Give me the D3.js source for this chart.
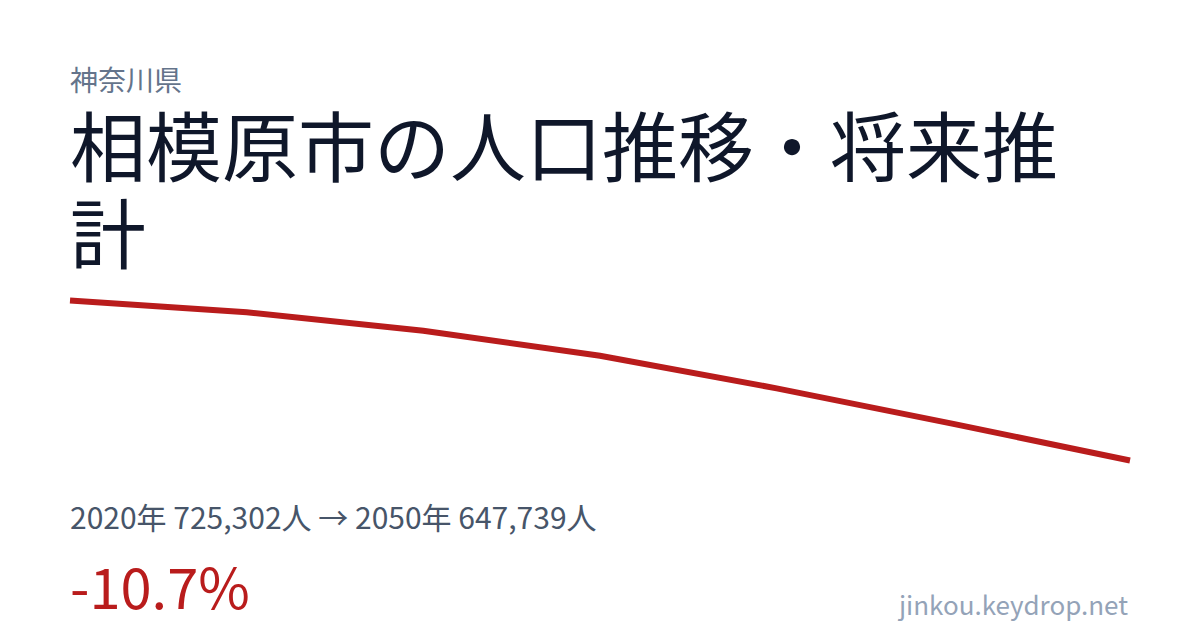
<!DOCTYPE html>
<html>
<head>
<meta charset="utf-8">
<script src="https://cdn.jsdelivr.net/npm/d3@7"></script>
<style>
  html, body { margin: 0; padding: 0; background: #fff; }
  svg { display: block; font-family: "Noto Sans CJK JP", "Noto Sans", sans-serif; }
</style>
</head>
<body>
<div class="canvas"></div>
<script>
// Data
const prefecture = '神奈川県'
const title = '相模原市の人口推移・将来推計'
const years = [2020, 2025, 2030, 2035, 2040, 2045, 2050]
const population = [725302, 719600, 710600, 698500, 682700, 665500, 647739]
const site = 'jinkou.keydrop.net'

const width = 1200
const height = 630
const margin = {left: 70, right: 70}

const svg = d3.select('.canvas')
  .append('svg')
    .attr('width', width)
    .attr('height', height)

// Prefecture label
svg.append('text')
  .attr('x', margin.left)
  .attr('y', 91)
  .attr('font-size', 28)
  .attr('fill', '#64748b')
  .text(prefecture)

// Title, wrapped to the chart width
const maxWidth = width - margin.left - margin.right
let lines = ['']
const probe = svg.append('text').attr('font-size', 76).attr('visibility', 'hidden')
for (const ch of title) {
  const test = lines[lines.length - 1] + ch
  probe.text(test)
  if (probe.node().getComputedTextLength() > maxWidth && lines[lines.length - 1] !== '') {
    lines.push(ch)
  } else {
    lines[lines.length - 1] = test
  }
}
probe.remove()

svg.selectAll('.title-line')
  .data(lines)
  .enter()
  .append('text')
    .attr('class', 'title-line')
    .attr('x', margin.left)
    .attr('y', (d, i) => 176 + i * 87)
    .attr('font-size', 76)
    .attr('fill', '#0f172a')
    .text(d => d)

// Scales
const x = d3.scaleLinear()
  .domain(d3.extent(years))
  .range([margin.left, width - margin.right])

const y = d3.scaleLinear()
  .domain(d3.extent(population))
  .range([460.5, 300.5])

const line = d3.line()
  .x((d, i) => x(years[i]))
  .y(d => y(d))

svg.append('path')
  .datum(population)
  .attr('d', line)
  .attr('fill', 'none')
  .attr('stroke', '#b91c1c')
  .attr('stroke-width', 6)

// Summary line
const first = population[0]
const last = population[population.length - 1]
const fmt = d3.format(',')
const locale = d3.formatLocale({decimal: '.', thousands: ',', grouping: [3], currency: ['', ''], minus: '-'})

svg.append('text')
  .attr('x', margin.left)
  .attr('y', 529)
  .attr('font-size', 30)
  .attr('fill', '#475569')
  .text(`${years[0]}年 ${fmt(first)}人 → ${years[years.length - 1]}年 ${fmt(last)}人`)

svg.append('text')
  .attr('x', margin.left)
  .attr('y', 609)
  .attr('font-size', 56)
  .attr('fill', '#b91c1c')
  .text(locale.format('.1f')((last - first) / first * 100) + '%')

// Footer
svg.append('text')
  .attr('x', width - 72)
  .attr('y', 615)
  .attr('text-anchor', 'end')
  .attr('font-size', 26)
  .attr('fill', '#94a3b8')
  .text(site)
</script>
</body>
</html>
